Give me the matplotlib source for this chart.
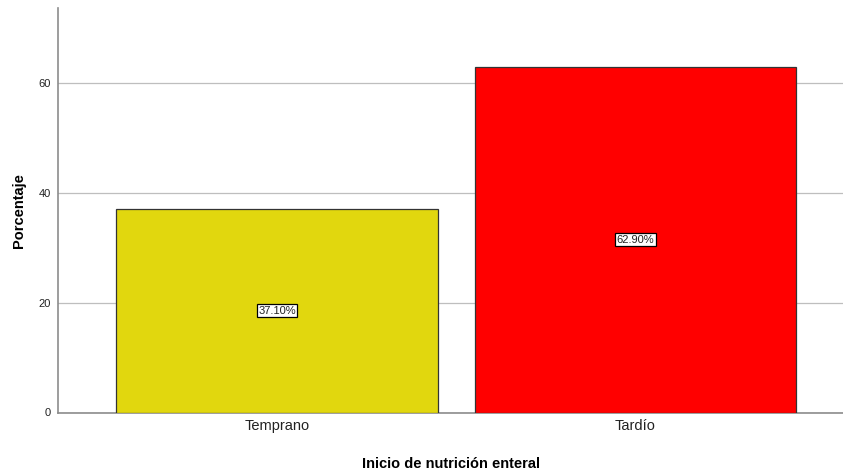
import matplotlib.pyplot as plt

plt.rcParams['font.family'] = ['Liberation Sans', 'DejaVu Sans']

categorias = ['Temprano', 'Tardío']
porcentajes = [37.10, 62.90]
colores = ['#E1D70E', '#FF0000']

fig = plt.figure(figsize=(8.43, 4.72), dpi=100)
ax = fig.add_axes([58 / 843, 1 - 412.5 / 472, 785 / 843, 404.5 / 472])

x = range(len(categorias))
ax.bar(x, porcentajes, width=0.898, color=colores, edgecolor='#333333', linewidth=0.9, zorder=3)

# etiquetas de porcentaje en el centro de cada barra
for xi, v in zip(x, porcentajes):
    ax.text(xi, v / 2, f'{v:.2f}%', ha='center', va='center', fontsize=8, color='#222222', zorder=4,
            bbox=dict(boxstyle='square,pad=0.15', facecolor='white', edgecolor='black', linewidth=0.9))

ax.set_xlim(-0.611, 1.579)
ax.set_ylim(0, 73.6)
ax.set_yticks([0, 20, 40, 60])
ax.set_xticks(list(x))
ax.set_xticklabels(categorias, fontsize=10.5, color='#222222')
ax.tick_params(axis='y', length=0, labelsize=8, pad=5, labelcolor='#222222')
ax.tick_params(axis='x', length=0, pad=5)
ax.yaxis.grid(True, color='#BEBEBE', linewidth=0.9, zorder=0)

for s in ['top', 'right']:
    ax.spines[s].set_visible(False)
ax.spines['left'].set_color('#8C8C8C')
ax.spines['bottom'].set_color('#8C8C8C')
ax.spines['left'].set_linewidth(1.2)
ax.spines['bottom'].set_linewidth(1.2)

ax.set_ylabel('Porcentaje', fontsize=10.5, fontweight='bold', labelpad=9)
ax.set_xlabel('Inicio de nutrición enteral', fontsize=10.5, fontweight='bold', labelpad=17)

fig.savefig('out.png', dpi=100)
